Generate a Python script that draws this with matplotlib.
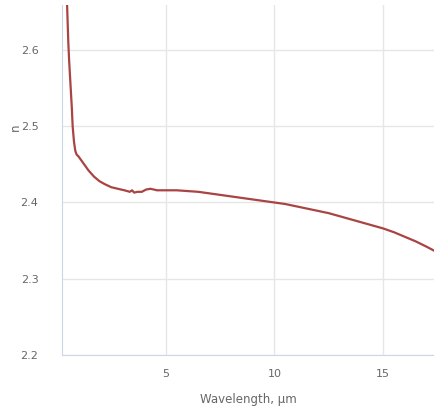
import matplotlib
matplotlib.use("Agg")
import matplotlib.pyplot as plt

# refractive index vs wavelength
wavelength = [0.40, 0.44, 0.48, 0.52, 0.56, 0.62, 0.68, 0.72, 0.78, 0.84, 0.90,
              1.00, 1.20, 1.45, 1.70, 1.95, 2.20, 2.50, 2.80, 3.10, 3.35, 3.45,
              3.55, 3.70, 3.90, 4.10, 4.30, 4.60, 5.00, 5.50, 6.00, 6.50, 7.00,
              7.50, 8.00, 8.50, 9.00, 9.50, 10.0, 10.5, 11.0, 11.5, 12.0, 12.5,
              13.0, 13.5, 14.0, 14.5, 15.0, 15.5, 16.0, 16.5, 17.0, 17.4]
n_index = [2.80, 2.68, 2.645, 2.61, 2.585, 2.555, 2.525, 2.50, 2.48, 2.468, 2.463,
           2.460, 2.452, 2.442, 2.434, 2.428, 2.424, 2.420, 2.418, 2.416, 2.414, 2.416,
           2.413, 2.414, 2.414, 2.417, 2.418, 2.416, 2.416, 2.416, 2.415, 2.414, 2.412,
           2.410, 2.408, 2.406, 2.404, 2.402, 2.400, 2.398, 2.395, 2.392, 2.389, 2.386,
           2.382, 2.378, 2.374, 2.370, 2.366, 2.361, 2.355, 2.349, 2.342, 2.336]

x_ticks = [5, 10, 15]
y_ticks = [2.2, 2.3, 2.4, 2.5, 2.6]

fig = plt.figure(figsize=(4.34, 4.12), dpi=100)
ax = fig.add_axes([62 / 434, 57 / 412, 372 / 434, 350 / 412])

ax.plot(wavelength, n_index, color="#a94442", linewidth=1.6, solid_joinstyle="round")

ax.set_xlim(0.23, 17.34)
ax.set_ylim(2.2, 2.659)
ax.set_xticks(x_ticks)
ax.set_yticks(y_ticks)
ax.set_yticklabels([f"{v:.1f}" for v in y_ticks])
ax.grid(True, color="#e6e6e6", linewidth=1)
ax.set_axisbelow(True)

for side in ["top", "right"]:
    ax.spines[side].set_visible(False)
ax.spines["left"].set_color("#ccd6eb")
ax.spines["bottom"].set_color("#ccd6eb")
ax.tick_params(length=0, labelsize=8, labelcolor="#666666")
ax.tick_params(axis="y", pad=17)
ax.tick_params(axis="x", pad=10)

ax.set_xlabel("Wavelength, µm", fontsize=8.5, color="#666666", labelpad=10)
fig.text(15 / 434, 1 - 127 / 412, "n", fontsize=8.5, color="#666666",
         rotation=90, ha="center", va="center")

fig.savefig("out.png", dpi=100)
